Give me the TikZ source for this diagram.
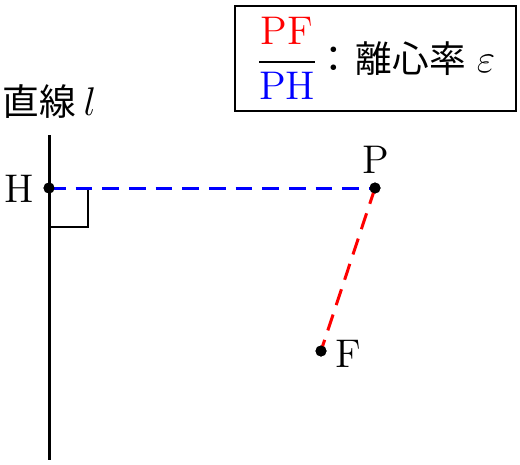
\documentclass[tikz,border=0pt]{standalone}
\usepackage{fontspec}
\newfontfamily\cjk{Noto Sans CJK JP}
\usepackage{amsmath}
\begin{document}
\begin{tikzpicture}[x=0.3pt,y=-0.3pt,
  every node/.style={font=\fontsize{12}{14}\selectfont, inner sep=0pt},
  cjktext/.style={font=\fontsize{11}{12}\selectfont\cjk},
  mainline/.style={line width=0.9pt},
  bluedash/.style={blue, line width=0.9pt, dash pattern=on 5pt off 3pt},
  reddash/.style={red, line width=0.9pt, dash pattern=on 5pt off 3pt},
  dotmark/.style={circle, fill=black, minimum size=3.3pt, inner sep=0pt},
  legend/.style={draw, line width=0.6pt, minimum width=84.5pt, minimum height=31.8pt}]
\useasboundingbox (0,0) rectangle (520,465);
% points
\coordinate (ltop) at (49,135);
\coordinate (lbot) at (49,460);
\coordinate (ra1) at (49,227);
\coordinate (ra2) at (88,227);
\coordinate (ra3) at (88,188);
\node[dotmark] (H) at (49,188) {};
\node[dotmark] (P) at (375,188) {};
\node[dotmark] (F) at (321,351) {};
% lines
\draw[mainline] (ltop) -- (lbot);
\draw[line width=0.6pt] (ra1) -- (ra2) -- (ra3);
\draw[bluedash] (H.center) -- (P.center);
\draw[reddash] (P.center) -- (F.center);
\node[dotmark] at (H) {};
\node[dotmark] at (P) {};
\node[dotmark] at (F) {};
% labels
\node (Hl) at (19,189) {H};
\node (Pl) at (376,160) {P};
\node (Fl) at (348,354) {F};
\node[cjktext, anchor=base west] (ll) at (2,115) {直線};
\node[anchor=base] (lsym) at (90,115) {$l$};
% legend
\node[legend] (box) at (375.5,58.5) {};
\node[anchor=base] (frac) at (287,72) {$\dfrac{\textcolor{red}{\mathrm{PF}}}{\textcolor{blue}{\mathrm{PH}}}$};
\node[cjktext, anchor=base] (colon) at (334,72) {：};
\node[cjktext, anchor=base west] (txt) at (355,72) {離心率};
\node[anchor=base] (eps) at (486,72) {$\varepsilon$};
\end{tikzpicture}
\end{document}
